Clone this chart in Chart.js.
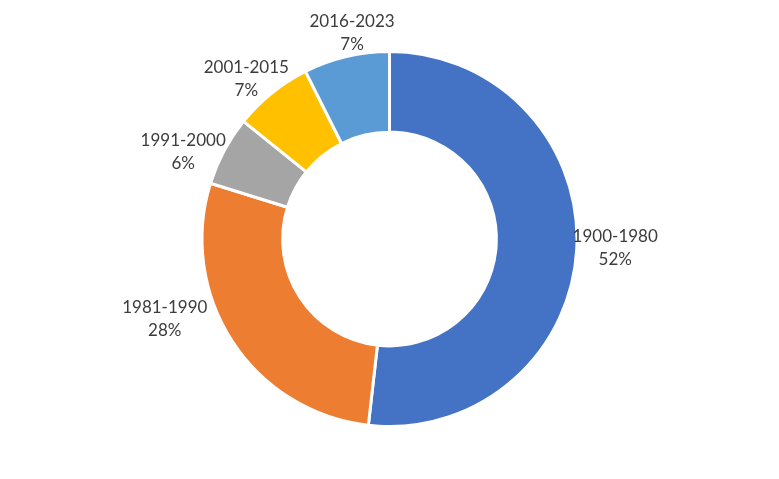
<!DOCTYPE html>
<html>
<head>
<meta charset="utf-8">
<script src="https://cdn.jsdelivr.net/npm/chart.js@4.4.1/dist/chart.umd.min.js"></script>
<style>
  html, body { margin: 0; padding: 0; background: #fff; }
</style>
</head>
<body>
<canvas id="periodChart" width="779" height="479"></canvas>
<script>
// share of buildings by construction period (%)
const periods = ['1900-1980', '1981-1990', '1991-2000', '2001-2015', '2016-2023'];
const shares = [51.8, 28.0, 6.0, 6.8, 7.4];
const sliceColors = ['#4472C4', '#ED7D31', '#A5A5A5', '#FFC000', '#5B9BD5'];

// small pixel nudges for the label boxes, Excel places them by hand-ish
const labelNudge = [[-10, -3], [-27, -38], [2, 15], [5, 9], [17, 5]];
const lineHeight = 23;
const labelGap = 6;

const sliceLabels = {
    id: 'sliceLabels',
    afterDatasetsDraw(chart) {
        const ctx = chart.ctx;
        const meta = chart.getDatasetMeta(0);
        const total = shares.reduce((a, b) => a + b, 0);
        ctx.save();
        ctx.font = '17px Lato';
        ctx.fillStyle = '#3c3c3c';
        ctx.textAlign = 'center';
        ctx.textBaseline = 'middle';
        meta.data.forEach((arc, i) => {
            const p = arc.getProps(['x', 'y', 'startAngle', 'endAngle', 'outerRadius'], true);
            const mid = (p.startAngle + p.endAngle) / 2;
            const dx = Math.cos(mid), dy = Math.sin(mid);
            const lines = [periods[i], Math.round(shares[i] / total * 100) + '%'];
            const w = Math.max(...lines.map(l => ctx.measureText(l).width));
            const h = lines.length * lineHeight;
            const r = p.outerRadius + labelGap;
            const cx = p.x + dx * r + dx * w / 2 + labelNudge[i][0];
            const cy = p.y + dy * r + dy * h / 2 + labelNudge[i][1];
            lines.forEach((l, k) => {
                ctx.fillText(l, cx, cy + (k - (lines.length - 1) / 2) * lineHeight);
            });
        });
        ctx.restore();
    }
};

const ctx = document.getElementById('periodChart').getContext('2d');

const periodChart = new Chart(ctx, {
    type: 'doughnut',
    data: {
        labels: periods,
        datasets: [{
            data: shares,
            backgroundColor: sliceColors,
            borderColor: '#ffffff',
            borderWidth: 3,
            hoverOffset: 0
        }]
    },
    options: {
        responsive: false,
        animation: false,
        cutout: '57%',
        layout: {
            padding: { top: 50, bottom: 51, left: 0, right: 0 }
        },
        plugins: {
            legend: { display: false },
            tooltip: { enabled: false }
        }
    },
    plugins: [sliceLabels]
});
</script>
</body>
</html>
